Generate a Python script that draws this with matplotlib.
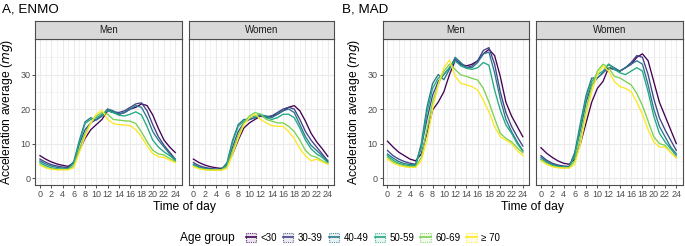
import matplotlib
matplotlib.use("Agg")
import matplotlib.pyplot as plt
from matplotlib.patches import Rectangle
from matplotlib.lines import Line2D
from matplotlib.legend_handler import HandlerTuple

plt.rcParams['font.family'] = ['Liberation Sans', 'DejaVu Sans']

hours = list(range(25))
age_groups = ["<30", "30-39", "40-49", "50-59", "60-69", "\u2265 70"]
colors = ["#440154", "#414487", "#2A788E", "#22A884", "#7AD151", "#FDE725"]
sexes = ["Men", "Women"]
xticks = list(range(0, 25, 2))
yticks = [0, 10, 20, 30]

enmo_men = [
    [6.5, 5.5, 4.7, 4.1, 3.7, 3.4, 4.5, 8, 11.5, 14, 15.5, 17, 19.5, 19, 18.5, 19, 20, 20.5, 21.5, 21, 18.3, 14.4, 11, 9, 7.4],
    [5.5, 4.6, 3.9, 3.5, 3.2, 3.0, 4.5, 10, 14, 16, 17, 18, 20, 19.2, 19, 19.5, 20.5, 21.5, 21.8, 19.5, 15.5, 12, 9.5, 7.5, 5.5],
    [5.0, 4.1, 3.5, 3.1, 2.9, 2.8, 4.8, 11, 16.3, 17.5, 16.8, 18, 20, 19.5, 18.5, 19, 20, 21, 20.5, 17.5, 13.5, 11, 9, 7, 5.0],
    [4.5, 3.6, 3.0, 2.7, 2.6, 2.6, 4.3, 10.5, 15.8, 17, 17.5, 18.5, 19.5, 19, 18.2, 18, 18.5, 19.2, 18.3, 14.9, 11, 9, 7.6, 6.5, 5.3],
    [4.0, 3.1, 2.7, 2.5, 2.5, 2.5, 3.5, 8.5, 13, 16, 18, 19, 18.5, 17, 16.8, 16.6, 16.5, 15.8, 13.4, 10.5, 8.1, 7, 6.7, 5.7, 4.8],
    [3.8, 3.0, 2.6, 2.4, 2.4, 2.4, 3.0, 7.5, 12, 16, 18.5, 19.7, 17, 15.8, 15.5, 15.4, 15.2, 14, 12, 9.3, 7.1, 6.2, 6, 5.2, 4.5],
]
enmo_women = [
    [5.5, 4.5, 3.8, 3.3, 3.0, 2.8, 3.8, 7, 11, 14.5, 16, 17, 18, 17.5, 18, 18.5, 19.5, 20.5, 21, 19.5, 16.5, 13, 10.5, 8.5, 6.3],
    [4.5, 3.6, 3.1, 2.8, 2.6, 2.6, 4.0, 9, 13.5, 16, 17, 17.5, 18, 17.8, 18, 19, 20, 20.5, 20, 17, 13.5, 11, 9, 7, 5.0],
    [4.0, 3.2, 2.8, 2.6, 2.5, 2.5, 4.5, 11, 15.5, 17, 17, 17.5, 18.3, 18, 17.5, 18.5, 19.5, 20, 19, 15.5, 12, 9.5, 8, 6.5, 4.7],
    [3.8, 3.0, 2.6, 2.4, 2.4, 2.4, 4.0, 10.5, 15, 16.5, 17.5, 18, 18.5, 17.5, 17, 17.5, 18.5, 18.5, 17.5, 14.5, 11, 8.5, 7, 6, 4.5],
    [3.5, 2.8, 2.5, 2.4, 2.4, 2.4, 3.2, 8, 12.5, 16, 18, 19, 18.5, 17, 16.5, 16, 16, 15, 13.5, 11, 8, 6.5, 6, 5, 4.2],
    [3.3, 2.7, 2.4, 2.3, 2.3, 2.3, 2.8, 7, 11.5, 15.5, 17.5, 18.5, 17, 16, 15.2, 15, 15, 13.5, 11.5, 8.5, 6.5, 5, 5.5, 4.7, 4.0],
]
mad_men = [
    [10.7, 9, 7.5, 6.5, 5.5, 5, 7, 13, 19.7, 22, 25, 30, 34, 33, 32.5, 33, 34, 36, 37.3, 35.5, 29.5, 22, 18, 15, 12],
    [8, 6.5, 5.5, 4.8, 4.3, 4, 9, 17, 24, 28, 30, 32, 34.5, 33, 32, 32.5, 34, 37, 37.8, 33, 25, 19, 15, 12, 9.3],
    [7, 5.8, 4.8, 4.2, 3.9, 3.8, 10, 20.5, 27.4, 30, 28.5, 31.5, 35, 33.5, 32, 32, 33.5, 36, 36.5, 30.5, 23, 17, 13.5, 10.5, 8],
    [6.5, 5.2, 4.3, 3.8, 3.6, 3.6, 9, 19, 26, 29, 30, 32, 34, 32.5, 31.8, 31.5, 32, 33.5, 32.7, 25.5, 19.7, 15.4, 13, 10, 7.8],
    [6, 4.7, 4, 3.5, 3.3, 3.3, 6, 14, 22, 27, 31, 33, 31.5, 29.9, 29.5, 28.9, 28.4, 26, 22, 17.3, 13, 11.5, 10.5, 8.8, 7.3],
    [5.5, 4.3, 3.7, 3.3, 3.1, 3.1, 5, 11, 20, 27, 32, 34.2, 29.5, 27.5, 27, 26.5, 25.5, 22.6, 19.2, 14.9, 12, 11, 10, 8, 6.5],
]
mad_women = [
    [8.8, 7.2, 6, 5, 4.3, 4, 5.5, 10, 16, 22, 26, 28, 32, 31.5, 31, 32, 33, 35, 36, 34, 28, 22, 18, 14, 10],
    [6.5, 5.2, 4.3, 3.8, 3.5, 3.4, 7, 14, 22, 27, 29, 30.5, 32, 31.5, 31, 32, 33.5, 35.5, 35, 30, 23, 17.5, 14, 11, 8],
    [6, 4.8, 4, 3.5, 3.2, 3.2, 7.5, 16, 24, 29, 29, 30.5, 33, 32, 31, 32, 33, 34, 33, 27, 20, 15, 12, 9, 7],
    [5.5, 4.4, 3.7, 3.3, 3.1, 3.1, 6.5, 15, 23, 28, 30, 31, 33, 31.5, 30.5, 30, 31, 32, 31, 25, 18, 13, 10.5, 8.5, 6.5],
    [5.3, 4.2, 3.5, 3.1, 3, 3, 5, 12, 20, 26.5, 31, 33, 32, 29.5, 29, 28, 27, 24.5, 21, 16.5, 12, 10, 9.5, 7.5, 6],
    [5, 4, 3.3, 3, 2.9, 2.9, 4, 10, 18, 25, 30, 32.5, 31, 28, 26.5, 26, 25, 22, 18.5, 14, 10.5, 9, 9, 7.5, 5.8],
]

W, H = 685, 246
fig = plt.figure(figsize=(W / 100, H / 100), dpi=100)

def box(x0, y0, x1, y1):
    return [x0 / W, 1 - y1 / H, (x1 - x0) / W, (y1 - y0) / H]

panel_top, panel_bot = 39, 185
strip_top = 21
panels = [
    ("ENMO", 0, (35, 181.5), enmo_men),
    ("ENMO", 1, (188.5, 334), enmo_women),
    ("MAD", 0, (382.5, 529), mad_men),
    ("MAD", 1, (536, 682.5), mad_women),
]

border = "#4D4D4D"
for metric, si, (x0, x1), data in panels:
    ax = fig.add_axes(box(x0, panel_top, x1, panel_bot))
    ax.set_facecolor("white")
    for vals, c in zip(data, colors):
        ax.plot(hours, vals, color=c, lw=0.95, solid_joinstyle="round", zorder=3)
    ax.set_xlim(-0.88, 25.1)
    ax.set_ylim(-2, 40.3)
    ax.set_xticks(xticks)
    ax.set_xticks(range(1, 25, 2), minor=True)
    ax.set_yticks(yticks)
    ax.set_yticks([5, 15, 25, 35], minor=True)
    ax.grid(True, which="major", color="#EBEBEB", lw=0.8, zorder=0)
    ax.grid(True, which="minor", color="#EBEBEB", lw=0.4, zorder=0)
    ax.set_axisbelow(True)
    ax.tick_params(which="major", length=2.2, width=0.6, color="#333333",
                   labelsize=6.5, labelcolor="#4D4D4D", pad=1.2)
    ax.tick_params(which="minor", length=0)
    if si == 1:
        ax.tick_params(axis="y", labelleft=False, length=0)
    for sp in ax.spines.values():
        sp.set_color(border)
        sp.set_linewidth(0.8)
    # strip
    sax = fig.add_axes(box(x0, strip_top, x1, panel_top))
    sax.set_facecolor("#D9D9D9")
    sax.set_xticks([])
    sax.set_yticks([])
    for sp in sax.spines.values():
        sp.set_color(border)
        sp.set_linewidth(0.8)
    sax.text(0.5, 0.5, sexes[si], ha="center", va="center", fontsize=7,
             color="#1A1A1A", transform=sax.transAxes)

# titles
fig.text(2 / W, 1 - 10 / H, "A, ENMO", fontsize=9.6, ha="left", va="center", color="black")
fig.text(342 / W, 1 - 10 / H, "B, MAD", fontsize=9.6, ha="left", va="center", color="black")

# axis titles
for xc in (184.5, 532.5):
    fig.text(xc / W, 1 - 207 / H, "Time of day", fontsize=8.7, ha="center", va="center")
for xc in (7.5, 354.5):
    fig.text(xc / W, 1 - 112 / H, r"Acceleration average ($\mathit{mg}$)", fontsize=8.7,
             ha="center", va="center", rotation=90)

# legend
fig.text(180 / W, 1 - 238 / H, "Age group", fontsize=8.6, ha="left", va="center")
handles = []
for c in colors:
    rect = Rectangle((0, 0), 1, 1, facecolor=c, alpha=0.1, edgecolor="none")
    rect_edge = Rectangle((0, 0), 1, 1, facecolor="none", edgecolor=c,
                          linestyle=(0, (1, 1)), linewidth=0.8, alpha=0.8)
    ln = Line2D([0], [0], color=c, lw=1.2)
    handles.append((rect, rect_edge, ln))
leg = fig.legend(handles, age_groups, handler_map={tuple: HandlerTuple(ndivide=1)},
                 loc="center", bbox_to_anchor=(373 / W, 1 - 238 / H), ncol=6,
                 frameon=False, fontsize=7, handlelength=1.05, handleheight=1.05,
                 handletextpad=0.5, columnspacing=0.6, borderpad=0, borderaxespad=0)

fig.savefig("out.png", dpi=100)
